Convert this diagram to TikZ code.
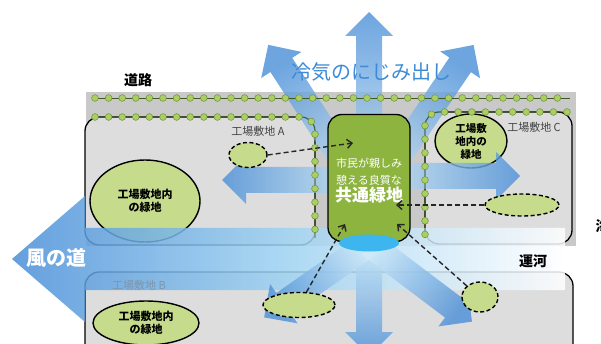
\documentclass[tikz,border=0pt]{standalone}
\usepackage{fontspec}
\setmainfont{Noto Sans CJK JP}
\usetikzlibrary{positioning}
\usetikzlibrary{shapes.geometric}
\usetikzlibrary{arrows.meta}
\usetikzlibrary{decorations.markings}

\definecolor{roadgray}{HTML}{C9C9C9}
\definecolor{blockgray}{HTML}{DDDDDD}
\definecolor{parkgreen}{HTML}{8DB43F}
\definecolor{leafgreen}{HTML}{C6DC8C}
\definecolor{dotgreen}{HTML}{A9CF62}
\definecolor{dotedge}{HTML}{6E8F3A}
\definecolor{airblue}{HTML}{4A8FD8}
\definecolor{airpale}{HTML}{CFEAF8}
\definecolor{skyband}{HTML}{9FD3F2}
\definecolor{poolblue}{HTML}{3DB5EE}
\definecolor{textblue}{HTML}{3D8BD6}
\definecolor{labelgray}{HTML}{454545}
\definecolor{bluegray}{HTML}{7D95AC}

\tikzset{
  site/.style={draw=black, line width=1.3pt, fill=blockgray, rounded corners=14pt},
  greenery/.style={ellipse, draw=black, line width=1.4pt, fill=leafgreen, inner sep=0pt,
    align=center, font=\bfseries\fontsize{11}{13}\selectfont},
  patch/.style={ellipse, draw=black, line width=1.4pt, dash pattern=on 4pt off 2.5pt,
    fill=leafgreen, inner sep=0pt},
  flowlink/.style={draw=black!85, line width=1.4pt, dash pattern=on 5pt off 3pt,
    -{Straight Barb[length=5pt,width=9pt]}},
  treerow/.style={draw=dotedge!60!black, line width=0.8pt,
    decoration={markings, mark=between positions 0 and 1 step 13.6pt with
      {\filldraw[fill=dotgreen, draw=dotedge, line width=0.5pt] (0,0) circle (3.4pt);}},
    postaction={decorate}},
  sitelabel/.style={text=labelgray, font=\fontsize{11}{13}\selectfont},
}

\begin{document}
\begin{tikzpicture}[x=1pt, y=-1pt]
        \clip (0,0) rectangle (601,344);
        \fill[white] (0,0) rectangle (601,344);

        % Road and factory sites
        \fill[roadgray] (86,92) rectangle (576,246);
        \draw[site] (85,117) rectangle (315,245);
        \draw[site] (425,112) rectangle (572,244);
        \draw[site] (85,272) rectangle (573,372);

        % Green areas inside the sites
        \node[greenery, minimum width=110pt, minimum height=82pt] (aGreen) at (145,201) {工場敷地内\\の緑地};
        \node[greenery, minimum width=106pt, minimum height=44pt] (bGreen) at (146,323) {工場敷地内\\の緑地};
        \node[greenery, minimum width=72pt, minimum height=54pt, font=\bfseries\fontsize{10.5}{13}\selectfont] (cGreen) at (471,141) {工場敷\\地内の\\緑地};

        % Wind road
        \shade[left color=airblue, right color=white, middle color=skyband, opacity=0.85]
          (12,259) -- (85,196) -- (85,228) -- (565,228) -- (565,290) -- (85,290) -- (85,322) -- cycle;

        % Cold air seeping out
        \foreach \hx/\hy/\ang/\len in {369/200/90/188, 369/200/123/185, 369/200/56/187,
            369/180/180/147, 369/176/0/151, 369/244/270/112, 369/244/215/128, 369/244/323/129} {
          \pgfmathsetmacro\shang{\ang-90}
          \begin{scope}[shift={(\hx,\hy)}, rotate=\ang]
            \shade[top color=airblue, bottom color=airpale, shading angle=\shang, opacity=0.8]
              (0,-13) -- (\len-24,-13) -- (\len-24,-24) -- (\len,0) -- (\len-24,24) -- (\len-24,13) -- (0,13) -- cycle;
          \end{scope}
        }

        % Common green
        \node[draw=black, line width=1.3pt, fill=parkgreen, rounded corners=14pt,
          minimum width=82pt, minimum height=127pt] (common) at (369,178) {};
        \node[ellipse, fill=poolblue, inner sep=0pt, minimum width=60pt, minimum height=17pt] (pool) at (369,243) {};
        \node[align=center, text=white, font=\fontsize{11}{17}\selectfont] (commonText) at (369,181)
          {市民が親しみ\\憩える良質な\\{\bfseries\fontsize{17}{20}\selectfont 共通緑地}};

        % Street trees
        \draw[treerow] (95,98) -- (570,98);
        \draw[treerow, rounded corners=14pt] (95,117) -- (315,117) -- (315,238);
        \draw[treerow, rounded corners=14pt] (567,112) -- (425,112) -- (425,238);

        % Small green patches
        \node[patch, minimum width=38pt, minimum height=25pt] (aPatch) at (248,155) {};
        \node[patch, minimum width=74pt, minimum height=22pt] (cPatch) at (522,205) {};
        \node[patch, minimum width=72pt, minimum height=25pt] (bPatchL) at (299,305) {};
        \node[patch, minimum width=36pt, minimum height=30pt] (bPatchR) at (480,297) {};

        % Links to the common green
        \coordinate (aIn) at (353,143);
        \coordinate (cIn) at (396,205);
        \coordinate (bInL) at (345,224);
        \coordinate (bInR) at (397,224);
        \draw[flowlink] (aPatch.east) -- (aIn);
        \draw[flowlink] (cPatch.west) -- (cIn);
        \draw[flowlink] (bPatchL.60) -- (bInL);
        \draw[flowlink] (bPatchR.north west) -- (bInR);

        % Labels
        \node[font=\bfseries\fontsize{14}{16}\selectfont] (roadLabel) at (138,80) {道路};
        \node[text=textblue, font=\fontsize{20}{22}\selectfont] (coolLabel) at (371,72) {冷気のにじみ出し};
        \node[sitelabel] (siteA) at (258,131) {工場敷地 A};
        \node[sitelabel] (siteC) at (534,127) {工場敷地 C};
        \node[sitelabel, text=bluegray] (siteB) at (139,285) {工場敷地 B};
        \node[text=white, font=\bfseries\fontsize{20}{22}\selectfont] (windLabel) at (56,258) {風の道};
        \node[font=\bfseries\fontsize{14}{16}\selectfont] (canalLabel) at (533,261) {運河};
        \node[anchor=west, font=\bfseries\fontsize{14}{16}\selectfont] (seaLabel) at (592,226) {海};
    \end{tikzpicture}
\end{document}
